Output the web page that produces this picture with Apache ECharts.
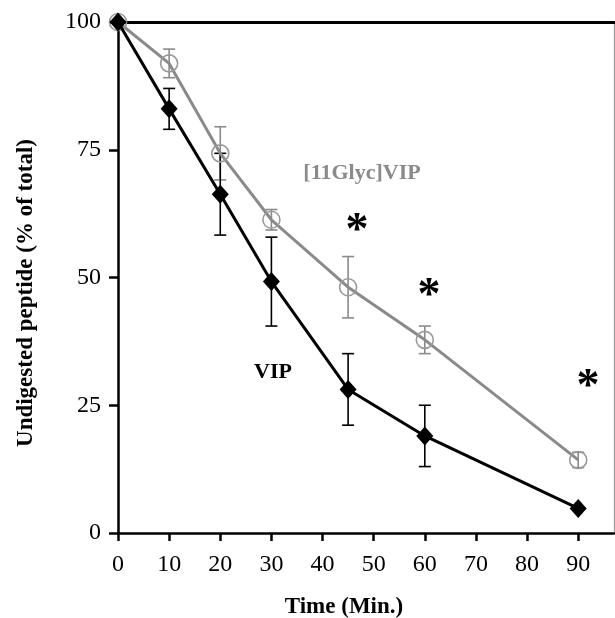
<!DOCTYPE html>
<html><head><meta charset="utf-8">
<script src="https://cdn.jsdelivr.net/npm/echarts@6/dist/echarts.min.js"></script>
<style>html,body{margin:0;padding:0;background:#fff}#c{width:615px;height:618px}</style>
</head><body><div id="c"></div>
<script>
var times = [0, 10, 20, 30, 45, 60, 90];
var vip = [100, 83, 66.3, 49.2, 28.1, 19, 4.8];
var vipErr = [0, 4, 8, 8.7, 7, 6, 0];
var glyc = [100, 91.9, 74.3, 61.3, 48.1, 37.8, 14.3];
var glycErr = [0, 2.8, 5.2, 2, 6, 2.7, 1.5];
var xTicks = [0, 10, 20, 30, 40, 50, 60, 70, 80, 90];
var yTicks = [0, 25, 50, 75, 100];

var GREY = '#8a8a8a';
var serif = '"Liberation Serif","DejaVu Serif",serif';

function pts(xs, ys) { return xs.map(function (x, i) { return [x, ys[i]]; }); }
function errData(xs, ys, es) { return xs.map(function (x, i) { return [x, ys[i] - es[i], ys[i] + es[i]]; }).filter(function (d) { return d[2] > d[1]; }); }
function errSeries(data, color, z) {
  return {
    type: 'custom', data: data, z: z, silent: true,
    renderItem: function (params, api) {
      var lo = api.coord([api.value(0), api.value(1)]);
      var hi = api.coord([api.value(0), api.value(2)]);
      var w = 6;
      var st = { stroke: color, lineWidth: 1.6 };
      return { type: 'group', children: [
        { type: 'line', shape: { x1: lo[0], y1: lo[1], x2: hi[0], y2: hi[1] }, style: st },
        { type: 'line', shape: { x1: lo[0] - w, y1: lo[1], x2: lo[0] + w, y2: lo[1] }, style: st },
        { type: 'line', shape: { x1: hi[0] - w, y1: hi[1], x2: hi[0] + w, y2: hi[1] }, style: st }
      ] };
    }
  };
}

var chart = echarts.init(document.getElementById('c'), null, { renderer: 'canvas' });
chart.setOption({
  animation: false,
  grid: { left: 118, right: 1, top: 22, bottom: 85 },
  xAxis: [{
    type: 'value', min: 0, max: 97, interval: 10,
    axisLine: { show: true, onZero: false, lineStyle: { color: '#000', width: 2.5 } },
    axisTick: { show: true, length: 8, lineStyle: { color: '#000', width: 2.5 } },
    axisLabel: { show: true, margin: 20, showMaxLabel: false, color: '#000', fontFamily: serif, fontSize: 24,
      formatter: function (v) { return xTicks.indexOf(v) >= 0 ? String(v) : ''; } },
    splitLine: { show: false }
  }, {
    type: 'value', position: 'top', min: 0, max: 97,
    axisLine: { show: true, onZero: false, lineStyle: { color: '#000', width: 3 } },
    axisTick: { show: false }, axisLabel: { show: false }, splitLine: { show: false }
  }],
  yAxis: [{
    type: 'value', min: 0, max: 100, interval: 25,
    axisLine: { show: true, onZero: false, lineStyle: { color: '#000', width: 2.5 } },
    axisTick: { show: true, length: 9, lineStyle: { color: '#000', width: 2.5 } },
    axisLabel: { show: true, margin: 17, color: '#000', fontFamily: serif, fontSize: 24,
      formatter: function (v) { return yTicks.indexOf(v) >= 0 ? String(v) : ''; } },
    splitLine: { show: false }
  }, {
    type: 'value', position: 'right', min: 0, max: 100,
    axisLine: { show: true, onZero: false, lineStyle: { color: '#999', width: 1.2 } },
    axisTick: { show: false }, axisLabel: { show: false }, splitLine: { show: false }
  }],
  series: [
    errSeries(errData(times, glyc, glycErr), GREY, 2),
    errSeries(errData(times, vip, vipErr), '#000', 3),
    {
      type: 'line', name: '[11Glyc]VIP', data: pts(times, glyc), z: 4,
      lineStyle: { color: GREY, width: 3 },
      symbol: 'circle', symbolSize: 17,
      itemStyle: { color: 'rgba(255,255,255,0)', borderColor: '#9a9a9a', borderWidth: 1.6 }
    },
    {
      type: 'line', name: 'VIP', data: pts(times, vip), z: 5,
      lineStyle: { color: '#000', width: 3 },
      symbol: 'diamond', symbolSize: [17, 19],
      itemStyle: { color: '#000', borderWidth: 0 }
    }
  ],
  graphic: [
    { type: 'text', x: 26, y: 293, rotation: Math.PI / 2, style: { text: 'Undigested peptide (% of total)', fill: '#000', font: 'bold 23px ' + serif, textAlign: 'center', textVerticalAlign: 'middle' } },
    { type: 'text', x: 344, y: 607, style: { text: 'Time (Min.)', fill: '#000', font: 'bold 23px ' + serif, textAlign: 'center', textVerticalAlign: 'middle' } },
    { type: 'text', x: 362, y: 173, style: { text: '[11Glyc]VIP', fill: GREY, font: 'bold 22px ' + serif, textAlign: 'center', textVerticalAlign: 'middle' } },
    { type: 'text', x: 273, y: 372, style: { text: 'VIP', fill: '#000', font: 'bold 22px ' + serif, textAlign: 'center', textVerticalAlign: 'middle' } },
    { type: 'text', x: 357, y: 232, style: { text: '*', fill: '#000', font: 'bold 46px ' + serif, textAlign: 'center', textVerticalAlign: 'middle' } },
    { type: 'text', x: 429, y: 297, style: { text: '*', fill: '#000', font: 'bold 46px ' + serif, textAlign: 'center', textVerticalAlign: 'middle' } },
    { type: 'text', x: 588, y: 388, style: { text: '*', fill: '#000', font: 'bold 46px ' + serif, textAlign: 'center', textVerticalAlign: 'middle' } }
  ]
});
</script></body></html>
